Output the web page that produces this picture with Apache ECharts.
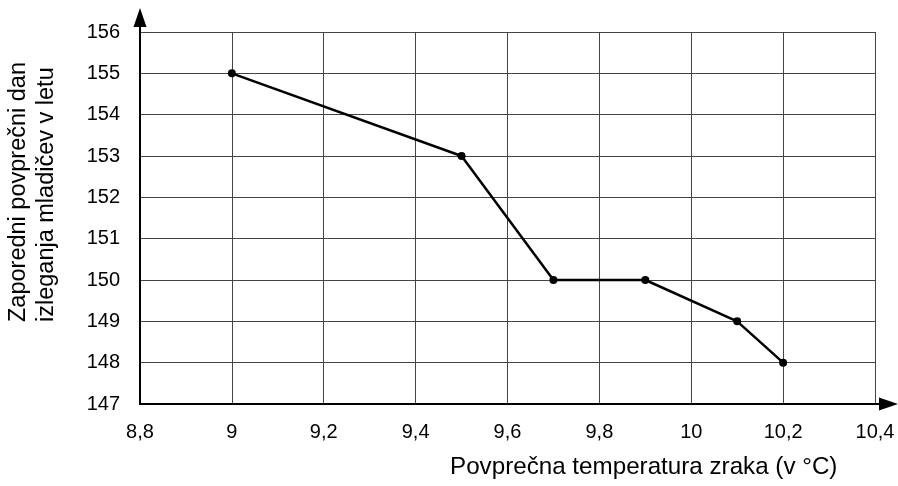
<!DOCTYPE html>
<html>
<head>
<meta charset="utf-8">
<script src="https://cdn.jsdelivr.net/npm/echarts@6/dist/echarts.min.js"></script>
<style>
html,body{margin:0;padding:0;background:#fff;}
#c{width:898px;height:486px;}
</style>
</head>
<body>
<div id="c"></div>
<script>
const temperatures = [9, 9.5, 9.7, 9.9, 10.1, 10.2];
const days = [155, 153, 150, 150, 149, 148];
const xName = 'Povprečna temperatura zraka (v °C)';
const yNameLines = ['Zaporedni povprečni dan', 'izleganja mladičev v letu'];

const FONT = 'Liberation Sans, Arial, sans-serif';
const GRID = '#444';
// arrow head (pointing up) with a short stem that joins the axis line
const ARROW = 'path://M6.5,0 L13,19 L7.5,19 L7.5,28 L5.5,28 L5.5,19 L0,19 Z';
const chart = echarts.init(document.getElementById('c'), null, {renderer: 'canvas'});
const fmt = v => String(Math.round(v * 10) / 10).replace('.', ',');

chart.setOption({
  animation: false,
  backgroundColor: '#fff',
  grid: {left: 140, top: 32, right: 23, bottom: 82, containLabel: false},
  xAxis: {
    type: 'value', min: 8.8, max: 10.4, interval: 0.2,
    axisLine: {show: true, onZero: false, lineStyle: {color: '#000', width: 2},
      symbol: ['none', ARROW], symbolSize: [13, 28], symbolOffset: [0, 9]},
    axisTick: {show: false},
    axisLabel: {color: '#000', fontSize: 20, fontFamily: FONT, margin: 18, formatter: fmt},
    splitLine: {show: true, lineStyle: {width: 1, color: GRID}}
  },
  yAxis: {
    type: 'value', min: 147, max: 156, interval: 1,
    axisLine: {show: true, onZero: false, lineStyle: {color: '#000', width: 2},
      symbol: ['none', ARROW], symbolSize: [13, 28], symbolOffset: [0, 10]},
    axisTick: {show: false},
    axisLabel: {color: '#000', fontSize: 20, fontFamily: FONT, margin: 20,
      formatter: v => String(Math.round(v))},
    splitLine: {show: true, lineStyle: {width: 1, color: GRID}}
  },
  graphic: [
    {type: 'text', left: 450, top: 455,
      style: {text: xName, fill: '#000', font: '24.2px ' + FONT}},
    {type: 'text', x: 33, y: 322, rotation: Math.PI / 2,
      style: {text: yNameLines.join('\n'), fill: '#000', font: '23.5px ' + FONT,
        align: 'left', verticalAlign: 'middle', lineHeight: 28}}
  ],
  series: [{
    type: 'line',
    data: temperatures.map((t, i) => [t, days[i]]),
    lineStyle: {color: '#000', width: 2.5},
    itemStyle: {color: '#000'},
    symbol: 'circle', symbolSize: 8, showSymbol: true
  }]
});
</script>
</body>
</html>
